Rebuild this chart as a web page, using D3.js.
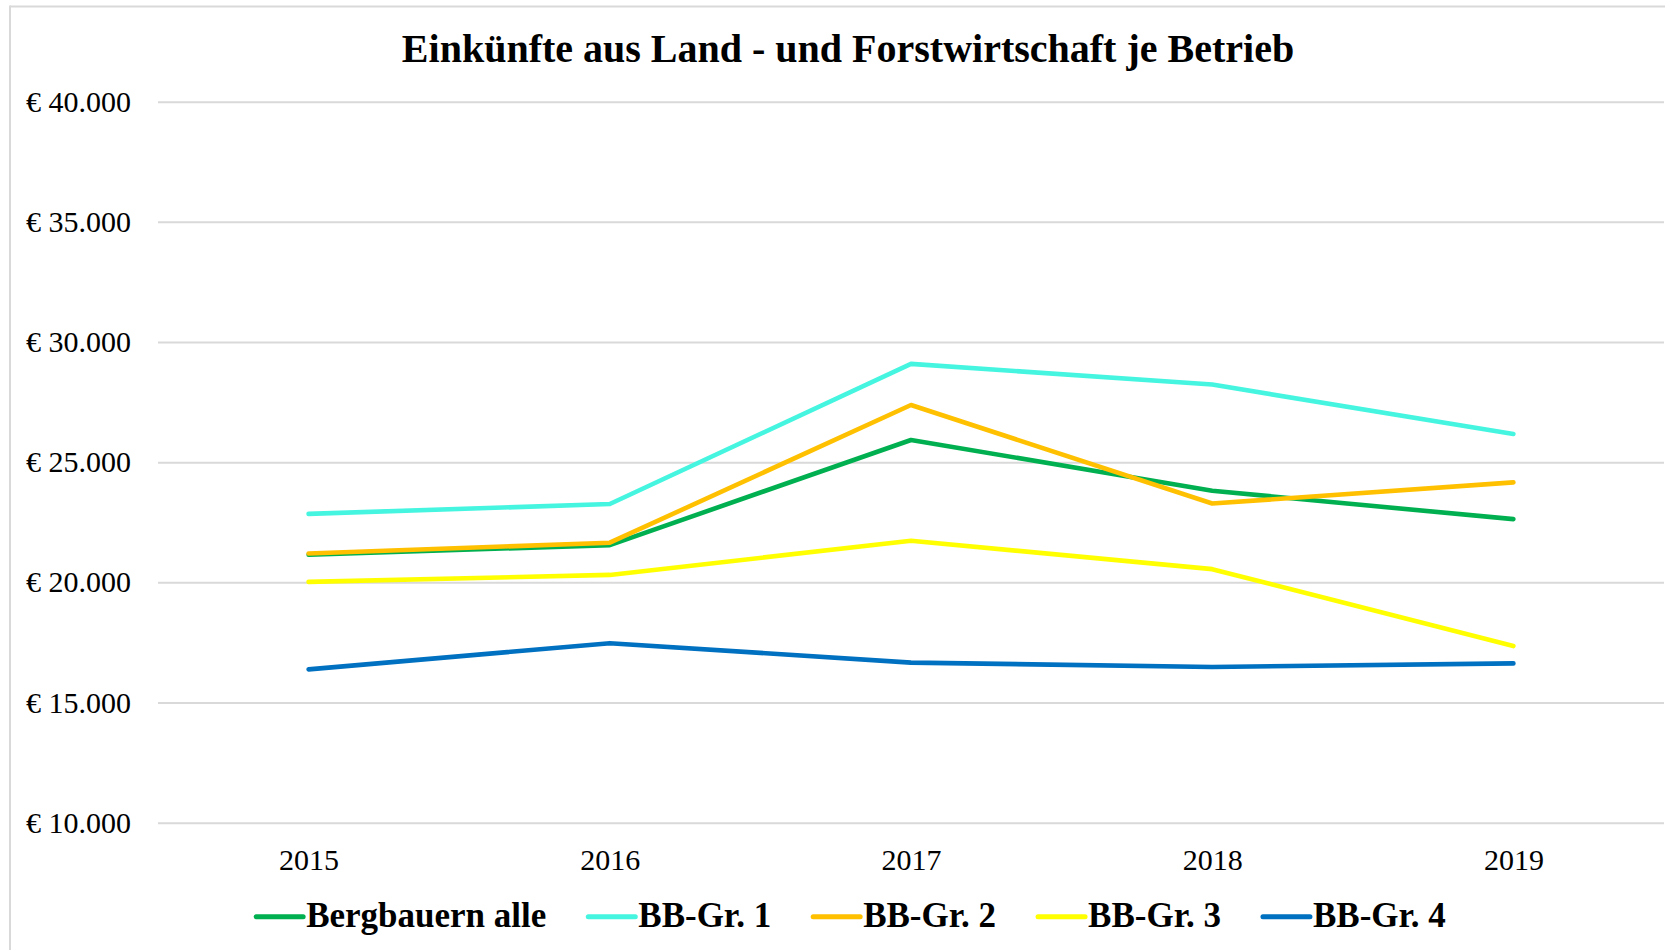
<!DOCTYPE html>
<html>
<head>
<meta charset="utf-8">
<script src="https://cdn.jsdelivr.net/npm/d3@7"></script>
<style>
  html, body { margin: 0; padding: 0; background: #fff; }
  svg { display: block; }
</style>
</head>
<body>
<svg id="chart" width="1665" height="950"></svg>
<script>
const years = ["2015", "2016", "2017", "2018", "2019"];
const seriesNames = ["Bergbauern alle", "BB-Gr. 1", "BB-Gr. 2", "BB-Gr. 3", "BB-Gr. 4"];
const bergbauernAlle = [21150, 21550, 25925, 23810, 22630];
const bbGr1 = [22850, 23260, 29090, 28230, 26175];
const bbGr2 = [21200, 21650, 27380, 23280, 24160];
const bbGr3 = [20020, 20310, 21730, 20550, 17350];
const bbGr4 = [16380, 17470, 16660, 16480, 16630];
const yTicks = [10000, 15000, 20000, 25000, 30000, 35000, 40000];
const colors = ["#00B050", "#45F5E0", "#FFC000", "#FFFF00", "#0070C0"];
const titleText = "Einkünfte aus Land - und Forstwirtschaft je Betrieb";

const seriesValues = [bergbauernAlle, bbGr1, bbGr2, bbGr3, bbGr4];
const series = seriesNames.map((name, i) => ({
  name, color: colors[i],
  values: years.map((y, j) => ({ year: y, value: seriesValues[i][j] }))
}));

const svg = d3.select("#chart");
const serif = "'Liberation Serif', 'Times New Roman', serif";

// chart border (top & left visible)
svg.append("line").attr("x1", 10).attr("x2", 1665).attr("y1", 6.5).attr("y2", 6.5)
  .attr("stroke", "#d9d9d9").attr("stroke-width", 2);
svg.append("line").attr("x1", 10).attr("x2", 10).attr("y1", 5.5).attr("y2", 950)
  .attr("stroke", "#d9d9d9").attr("stroke-width", 2);

const x = d3.scalePoint().domain(years).range([158, 1664]).padding(0.5);
const y = d3.scaleLinear().domain([10000, 40000]).range([822.7, 101.7]);

// title
svg.append("text")
  .attr("x", 848).attr("y", 61.5)
  .attr("text-anchor", "middle")
  .attr("font-family", serif).attr("font-weight", "bold").attr("font-size", 40)
  .attr("fill", "#000")
  .text(titleText);

// gridlines + y labels via axis
const fmt = v => "€ " + d3.format(",")(v).replace(/,/g, ".");
const yAxis = svg.append("g")
  .attr("transform", "translate(158,0)")
  .call(d3.axisLeft(y).tickValues(yTicks).tickSize(-(1664 - 158)).tickFormat(fmt).tickPadding(27));
yAxis.select(".domain").remove();
yAxis.selectAll(".tick line").attr("stroke", "#d9d9d9").attr("stroke-width", 2);
yAxis.selectAll(".tick text")
  .attr("font-family", serif).attr("font-size", 30).attr("fill", "#000")
  .attr("dy", "0.32em");

// x axis labels
const xAxis = svg.append("g")
  .attr("transform", "translate(0,822.7)")
  .call(d3.axisBottom(x).tickSize(0).tickPadding(0));
xAxis.select(".domain").remove();
xAxis.selectAll(".tick text")
  .attr("font-family", serif).attr("font-size", 30).attr("fill", "#000")
  .attr("dy", 0).attr("y", 47);

// lines
const line = d3.line().x(d => x(d.year)).y(d => y(d.value));
svg.append("g").selectAll("path").data(series).join("path")
  .attr("d", d => line(d.values))
  .attr("fill", "none")
  .attr("stroke", d => d.color)
  .attr("stroke-width", 4.6)
  .attr("stroke-linecap", "round")
  .attr("stroke-linejoin", "round");

// legend
const legend = svg.append("g");
const items = legend.selectAll("g").data(series).join("g");
items.append("line")
  .attr("x1", 0).attr("x2", 47).attr("y1", 916.7).attr("y2", 916.7)
  .attr("stroke", d => d.color).attr("stroke-width", 5).attr("stroke-linecap", "round");
items.append("text")
  .attr("x", 50).attr("y", 926.5)
  .attr("font-family", serif).attr("font-weight", "bold").attr("font-size", 35)
  .attr("fill", "#000")
  .text(d => d.name);
let widths = [];
items.each(function () { widths.push(50 + d3.select(this).select("text").node().getComputedTextLength()); });
const gap = 42;
const total = d3.sum(widths) + gap * (widths.length - 1);
let cx = 851 - total / 2;
items.each(function (d, i) {
  d3.select(this).attr("transform", `translate(${cx},0)`);
  cx += widths[i] + gap;
});
</script>
</body>
</html>
